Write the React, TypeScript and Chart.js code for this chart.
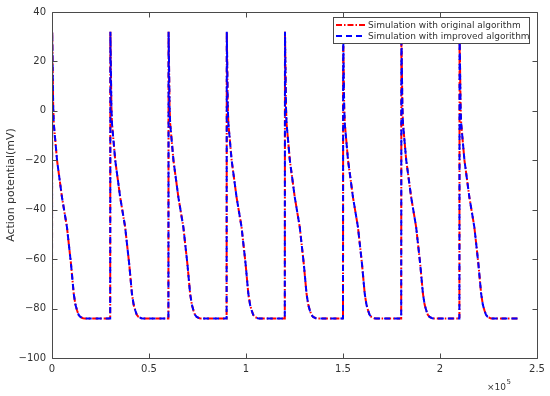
import React, { useEffect, useRef } from "react";
import { Chart, registerables } from "chart.js";

Chart.register(...registerables);

const timeValues = [
  0, 100, 600, 900, 2600, 5150, 7700, 9800, 11200, 12100, 12900, 13700, 14600, 16000, 17000,
  30000, 30100, 30600, 30900, 32600, 35150, 37700, 39800, 41200, 42100, 42900, 43700, 44600, 46000, 47000,
  60000, 60100, 60600, 60900, 62600, 65150, 67700, 69800, 71200, 72100, 72900, 73700, 74600, 76000, 77000,
  90000, 90100, 90600, 90900, 92600, 95150, 97700, 99800, 101200, 102100, 102900, 103700, 104600, 106000, 107000,
  120000, 120100, 120600, 120900, 122600, 125150, 127700, 129800, 131200, 132100, 132900, 133700, 134600, 136000, 137000,
  150000, 150100, 150600, 150900, 152600, 155150, 157700, 159800, 161200, 162100, 162900, 163700, 164600, 166000, 167000,
  180000, 180100, 180600, 180900, 182600, 185150, 187700, 189800, 191200, 192100, 192900, 193700, 194600, 196000, 197000,
  210000, 210100, 210600, 210900, 212600, 215150, 217700, 219800, 221200, 222100, 222900, 223700, 224600, 226000, 227000,
  240000,
];

const originalValues = [
  -84, 32, 2, -5, -20, -35, -47, -62, -74, -78.5, -80.7, -82.5, -83.4, -83.9, -84,
  -84, 32, 2, -5, -20, -35, -47, -62, -74, -78.5, -80.7, -82.5, -83.4, -83.9, -84,
  -84, 32, 2, -5, -20, -35, -47, -62, -74, -78.5, -80.7, -82.5, -83.4, -83.9, -84,
  -84, 32, 2, -5, -20, -35, -47, -62, -74, -78.5, -80.7, -82.5, -83.4, -83.9, -84,
  -84, 32, 2, -5, -20, -35, -47, -62, -74, -78.5, -80.7, -82.5, -83.4, -83.9, -84,
  -84, 32, 2, -5, -20, -35, -47, -62, -74, -78.5, -80.7, -82.5, -83.4, -83.9, -84,
  -84, 32, 2, -5, -20, -35, -47, -62, -74, -78.5, -80.7, -82.5, -83.4, -83.9, -84,
  -84, 32, 2, -5, -20, -35, -47, -62, -74, -78.5, -80.7, -82.5, -83.4, -83.9, -84,
  -84,
];

const improvedValues = [
  -84, 32, 2, -5, -20, -35, -47, -62, -74, -78.5, -80.7, -82.5, -83.4, -83.9, -84,
  -84, 32, 2, -5, -20, -35, -47, -62, -74, -78.5, -80.7, -82.5, -83.4, -83.9, -84,
  -84, 32, 2, -5, -20, -35, -47, -62, -74, -78.5, -80.7, -82.5, -83.4, -83.9, -84,
  -84, 32, 2, -5, -20, -35, -47, -62, -74, -78.5, -80.7, -82.5, -83.4, -83.9, -84,
  -84, 32, 2, -5, -20, -35, -47, -62, -74, -78.5, -80.7, -82.5, -83.4, -83.9, -84,
  -84, 32, 2, -5, -20, -35, -47, -62, -74, -78.5, -80.7, -82.5, -83.4, -83.9, -84,
  -84, 32, 2, -5, -20, -35, -47, -62, -74, -78.5, -80.7, -82.5, -83.4, -83.9, -84,
  -84, 32, 2, -5, -20, -35, -47, -62, -74, -78.5, -80.7, -82.5, -83.4, -83.9, -84,
  -84,
];

const xTickValues = [0, 50000, 100000, 150000, 200000, 250000];
const xTickLabels = ["0", "0.5", "1", "1.5", "2", "2.5"];
const yTickValues = [-100, -80, -60, -40, -20, 0, 20, 40];
const seriesLabels = [
  "Simulation with original algorithm",
  "Simulation with improved algorithm",
];
const yAxisTitle = "Action potential(mV)";
const xExponentBase = "\u00d710";
const xExponent = "5";

const FONT = '"DejaVu Sans", sans-serif';
const AXIS_COLOR = "#4a4a4a";
const TEXT_COLOR = "#333333";
const RED = "#ff0000";
const BLUE = "#0000ff";
const RED_DASH = [6, 2, 1.5, 2];
const BLUE_DASH = [6, 4];

const framePlugin = {
  id: "matlabFrame",
  afterDraw(chart: any) {
    const { ctx, chartArea: a, scales } = chart;
    ctx.save();
    ctx.strokeStyle = AXIS_COLOR;
    ctx.lineWidth = 1;
    const l = Math.round(a.left) + 0.5;
    const r = Math.round(a.right) + 0.5;
    const t = Math.round(a.top) + 0.5;
    const b = Math.round(a.bottom) + 0.5;
    ctx.beginPath();
    ctx.rect(l, t, r - l, b - t);
    for (const v of xTickValues) {
      const px = Math.round(scales.x.getPixelForValue(v)) + 0.5;
      ctx.moveTo(px, b);
      ctx.lineTo(px, b - 5);
      ctx.moveTo(px, t);
      ctx.lineTo(px, t + 5);
    }
    for (const v of yTickValues) {
      const py = Math.round(scales.y.getPixelForValue(v)) + 0.5;
      ctx.moveTo(l, py);
      ctx.lineTo(l + 5, py);
      ctx.moveTo(r, py);
      ctx.lineTo(r - 5, py);
    }
    ctx.stroke();

    // legend
    const lx = 333.5, ly = 17.5, lw = 196, lh = 26;
    ctx.fillStyle = "#ffffff";
    ctx.fillRect(lx, ly, lw, lh);
    ctx.strokeStyle = AXIS_COLOR;
    ctx.strokeRect(lx, ly, lw, lh);
    const rows = [
      { y: 25, color: RED, dash: RED_DASH, label: seriesLabels[0] },
      { y: 36, color: BLUE, dash: BLUE_DASH, label: seriesLabels[1] },
    ];
    ctx.font = "9px " + FONT;
    ctx.textAlign = "left";
    ctx.textBaseline = "middle";
    for (const row of rows) {
      ctx.save();
      ctx.strokeStyle = row.color;
      ctx.lineWidth = 2;
      ctx.setLineDash(row.dash);
      ctx.beginPath();
      ctx.moveTo(336, row.y);
      ctx.lineTo(366, row.y);
      ctx.stroke();
      ctx.restore();
      ctx.fillStyle = TEXT_COLOR;
      ctx.fillText(row.label, 368, row.y + 0.5);
    }

    // exponent label
    ctx.fillStyle = TEXT_COLOR;
    ctx.textBaseline = "alphabetic";
    ctx.font = "9px " + FONT;
    const bx = 487;
    ctx.fillText(xExponentBase, bx, 390);
    const w = ctx.measureText(xExponentBase).width;
    ctx.font = "7px " + FONT;
    ctx.fillText(xExponent, bx + w + 0.5, 384);
    ctx.restore();
  },
};

export default function App() {
  const canvasRef = useRef<HTMLCanvasElement | null>(null);

  useEffect(() => {
    document.body.style.margin = "0";
    const canvas = canvasRef.current;
    if (!canvas) return;
    const toPoints = (vals: number[]) =>
      timeValues.map((t, i) => ({ x: t, y: vals[i] }));

    const chart = new Chart(canvas, {
      type: "line",
      data: {
        datasets: [
          {
            label: seriesLabels[1],
            data: toPoints(improvedValues),
            borderColor: BLUE,
            borderWidth: 2,
            borderDash: BLUE_DASH,
            pointRadius: 0,
            fill: false,
            tension: 0,
          },
          {
            label: seriesLabels[0],
            data: toPoints(originalValues),
            borderColor: RED,
            borderWidth: 2,
            borderDash: RED_DASH,
            pointRadius: 0,
            fill: false,
            tension: 0,
          },
        ],
      },
      options: {
        animation: false,
        responsive: true,
        maintainAspectRatio: false,
        layout: { padding: { left: 0, right: 13, top: 10, bottom: 0 } },
        plugins: {
          legend: { display: false },
          tooltip: { enabled: false },
        },
        scales: {
          x: {
            type: "linear",
            min: 0,
            max: 250000,
            afterBuildTicks: (s: any) => {
              s.ticks = xTickValues.map((v) => ({ value: v }));
            },
            afterFit: (s: any) => {
              s.height = 38;
            },
            grid: { display: false, drawTicks: false },
            border: { display: false },
            ticks: {
              padding: 5,
              maxRotation: 0,
              autoSkip: false,
              color: TEXT_COLOR,
              font: { family: FONT, size: 10 },
              callback: (v: any) => {
                const i = xTickValues.indexOf(Number(v));
                return i >= 0 ? xTickLabels[i] : "";
              },
            },
          },
          y: {
            type: "linear",
            min: -100,
            max: 40,
            afterBuildTicks: (s: any) => {
              s.ticks = yTickValues.map((v) => ({ value: v }));
            },
            afterFit: (s: any) => {
              s.width = 52;
            },
            grid: { display: false, drawTicks: false },
            border: { display: false },
            title: {
              display: true,
              text: yAxisTitle,
              color: TEXT_COLOR,
              font: { family: FONT, size: 11 },
              padding: { top: 5, bottom: 0 },
            },
            ticks: {
              padding: 6,
              autoSkip: false,
              color: TEXT_COLOR,
              font: { family: FONT, size: 10 },
              callback: (v: any) => {
                const n = Number(v);
                return n < 0 ? "\u2212" + Math.abs(n) : String(n);
              },
            },
          },
        },
      },
      plugins: [framePlugin],
    });

    return () => chart.destroy();
  }, []);

  return (
    <div style={{ position: "fixed", left: 0, top: 0, width: 550, height: 396 }}>
      <canvas ref={canvasRef} />
    </div>
  );
}
